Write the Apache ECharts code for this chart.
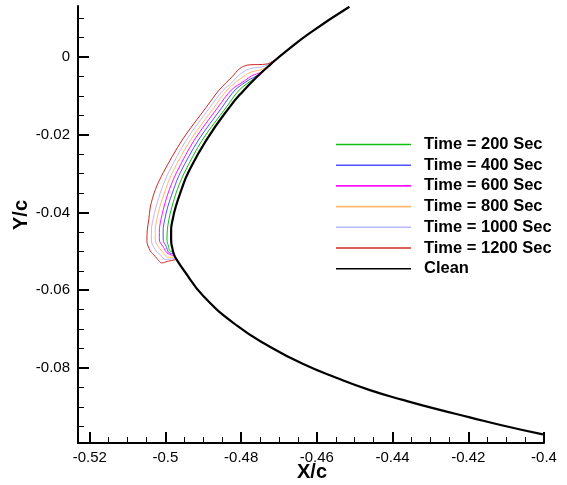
<!DOCTYPE html>
<html>
<head>
<meta charset="utf-8">
<script src="https://cdn.jsdelivr.net/npm/echarts@6/dist/echarts.min.js"></script>
<style>html,body{margin:0;padding:0;background:#fff}#c{width:567px;height:485px}</style>
</head>
<body>
<div id="c"></div>
<script>
// ---- data (X/c, Y/c) ----
const clean = [[-0.4514,0.0129],[-0.4618,0.0062],[-0.4681,0.0015],[-0.4721,-0.0018],[-0.4758,-0.0051],[-0.4795,-0.0088],[-0.4829,-0.0127],[-0.4892,-0.0214],[-0.4940,-0.0298],[-0.4958,-0.0342],[-0.4973,-0.0386],[-0.4981,-0.0419],[-0.4985,-0.0445],[-0.4985,-0.0471],[-0.4982,-0.0491],[-0.4977,-0.0509],[-0.4970,-0.0522],[-0.4952,-0.0548],[-0.4900,-0.0615],[-0.4810,-0.0692],[-0.4723,-0.0746],[-0.4636,-0.0790],[-0.4547,-0.0826],[-0.4460,-0.0857],[-0.4373,-0.0882],[-0.4283,-0.0906],[-0.4196,-0.0927],[-0.4109,-0.0948],[-0.4003,-0.0971]];
const ice200 = [[-0.4718,-0.0015],[-0.4763,-0.0053],[-0.4805,-0.0085],[-0.4839,-0.0129],[-0.4903,-0.0214],[-0.4950,-0.0298],[-0.4969,-0.0342],[-0.4983,-0.0386],[-0.4991,-0.0419],[-0.4995,-0.0445],[-0.4996,-0.0471],[-0.4992,-0.0487],[-0.4989,-0.0498],[-0.4979,-0.0502]];
const ice400 = [[-0.4714,-0.0012],[-0.4755,-0.0046],[-0.4781,-0.0060],[-0.4816,-0.0085],[-0.4850,-0.0129],[-0.4913,-0.0214],[-0.4961,-0.0298],[-0.4979,-0.0342],[-0.4994,-0.0386],[-0.5002,-0.0419],[-0.5006,-0.0445],[-0.5006,-0.0471],[-0.4998,-0.0487],[-0.4992,-0.0502],[-0.4978,-0.0507]];
const ice600 = [[-0.4710,-0.0009],[-0.4747,-0.0039],[-0.4771,-0.0048],[-0.4792,-0.0062],[-0.4826,-0.0085],[-0.4861,-0.0129],[-0.4924,-0.0214],[-0.4971,-0.0298],[-0.4990,-0.0342],[-0.5004,-0.0386],[-0.5012,-0.0419],[-0.5016,-0.0445],[-0.5016,-0.0471],[-0.5005,-0.0490],[-0.4996,-0.0504],[-0.4983,-0.0510],[-0.4977,-0.0511]];
const ice800 = [[-0.4708,-0.0006],[-0.4742,-0.0031],[-0.4774,-0.0039],[-0.4795,-0.0051],[-0.4837,-0.0085],[-0.4871,-0.0129],[-0.4934,-0.0214],[-0.4982,-0.0298],[-0.5000,-0.0342],[-0.5015,-0.0386],[-0.5023,-0.0419],[-0.5027,-0.0445],[-0.5027,-0.0471],[-0.5015,-0.0493],[-0.5003,-0.0507],[-0.4995,-0.0515],[-0.4974,-0.0515]];
const ice1000 = [[-0.4704,-0.0003],[-0.4739,-0.0024],[-0.4776,-0.0030],[-0.4800,-0.0042],[-0.4826,-0.0067],[-0.4847,-0.0085],[-0.4882,-0.0129],[-0.4945,-0.0214],[-0.4992,-0.0298],[-0.5011,-0.0342],[-0.5025,-0.0386],[-0.5033,-0.0419],[-0.5037,-0.0445],[-0.5037,-0.0473],[-0.5027,-0.0496],[-0.5014,-0.0509],[-0.5000,-0.0521],[-0.4973,-0.0518]];
const ice1200 = [[-0.4700,0.0001],[-0.4731,-0.0018],[-0.4784,-0.0021],[-0.4804,-0.0030],[-0.4824,-0.0051],[-0.4858,-0.0085],[-0.4892,-0.0129],[-0.4956,-0.0214],[-0.5006,-0.0298],[-0.5027,-0.0342],[-0.5040,-0.0386],[-0.5044,-0.0419],[-0.5048,-0.0445],[-0.5049,-0.0473],[-0.5040,-0.0499],[-0.5027,-0.0513],[-0.5009,-0.0530],[-0.4995,-0.0526],[-0.4971,-0.0521]];
const seriesNames = ['Time = 200 Sec','Time = 400 Sec','Time = 600 Sec','Time = 800 Sec','Time = 1000 Sec','Time = 1200 Sec','Clean'];
const xMajorTicks = [-0.52,-0.5,-0.48,-0.46,-0.44,-0.42,-0.4];
const xMinorTicks = [-0.515,-0.51,-0.505,-0.495,-0.49,-0.485,-0.475,-0.47,-0.465,-0.455,-0.45,-0.445,-0.435,-0.43,-0.425,-0.415,-0.41,-0.405];
const yMajorTicks = [-0.08,-0.06,-0.04,-0.02,0];
const yMinorTicks = [-0.095,-0.09,-0.085,-0.075,-0.07,-0.065,-0.055,-0.05,-0.045,-0.035,-0.03,-0.025,-0.015,-0.01,-0.005,0.005,0.01];

const colors = ['#10c010','#5050ff','#ff10ff','#ffb870','#b8b8ff','#d02828','#000000'];
const FONT = 'Liberation Sans, Arial, sans-serif';
const fmt = v => String(+(+v).toFixed(3));

const chart = echarts.init(document.getElementById('c'), null, {renderer:'canvas'});
const X = {min:-0.5231, max:-0.4};
const Y = {min:-0.0993, max:0.0131};

function mkSeries(name, data, color, width, z, smooth) {
  return {name, type:'line', data, xAxisIndex:0, yAxisIndex:0, symbol:'none', showSymbol:false,
    smooth, lineStyle:{color, width}, itemStyle:{color}, z, animation:false};
}

chart.setOption({
  animation:false,
  backgroundColor:'#fff',
  grid:{left:78, right:23, top:6, bottom:42, containLabel:false},
  xAxis:[
    {type:'value', min:X.min, max:X.max, position:'bottom',
     axisLine:{show:true, onZero:false, lineStyle:{color:'#000', width:2}},
     axisTick:{show:true, inside:true, length:11, customValues:xMajorTicks, lineStyle:{color:'#000', width:2}},
     axisLabel:{show:true, customValues:xMajorTicks, formatter:fmt, color:'#000', fontFamily:FONT, fontSize:15, margin:7},
     splitLine:{show:false}},
    {type:'value', min:X.min, max:X.max, position:'bottom', offset:0,
     axisLine:{show:false, onZero:false},
     axisTick:{show:true, inside:true, length:6, customValues:xMinorTicks, lineStyle:{color:'#000', width:1}},
     axisLabel:{show:false}, splitLine:{show:false}}
  ],
  yAxis:[
    {type:'value', min:Y.min, max:Y.max, position:'left',
     axisLine:{show:true, onZero:false, lineStyle:{color:'#000', width:2}},
     axisTick:{show:true, inside:true, length:11, customValues:yMajorTicks, lineStyle:{color:'#000', width:2}},
     axisLabel:{show:true, customValues:yMajorTicks, formatter:fmt, color:'#000', fontFamily:FONT, fontSize:15, margin:8},
     splitLine:{show:false}},
    {type:'value', min:Y.min, max:Y.max, position:'left', offset:0,
     axisLine:{show:false, onZero:false},
     axisTick:{show:true, inside:true, length:6, customValues:yMinorTicks, lineStyle:{color:'#000', width:1}},
     axisLabel:{show:false}, splitLine:{show:false}}
  ],
  legend:{
    orient:'vertical', left:331, top:131, itemWidth:75, itemHeight:1.6, itemGap:3.7,
    data:seriesNames.map(n => ({name:n, icon:'rect'})), selectedMode:false,
    textStyle:{color:'#000', fontFamily:FONT, fontSize:16.5, fontWeight:'bold', lineHeight:16, padding:[0,0,0,8]}
  },
  graphic:[
    {type:'text', left:297, top:462, style:{text:'X/c', fill:'#000', font:'bold 20px '+FONT}},
    {type:'text', x:11, y:230, rotation:Math.PI/2, style:{text:'Y/c', fill:'#000', font:'bold 20px '+FONT}}
  ],
  series:[
    mkSeries(seriesNames[0], ice200, colors[0], 1, 2, 0.3),
    mkSeries(seriesNames[1], ice400, colors[1], 1, 2, 0.3),
    mkSeries(seriesNames[2], ice600, colors[2], 1, 2, 0.3),
    mkSeries(seriesNames[3], ice800, colors[3], 1, 2, 0.3),
    mkSeries(seriesNames[4], ice1000, colors[4], 1, 2, 0.3),
    mkSeries(seriesNames[5], ice1200, colors[5], 1, 2, 0.3),
    mkSeries(seriesNames[6], clean, colors[6], 2.2, 3, 0.5)
  ]
});
</script>
</body>
</html>
